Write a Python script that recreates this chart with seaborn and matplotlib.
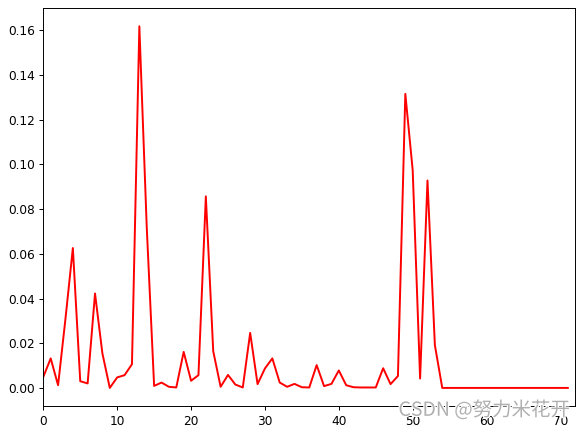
import numpy as np
import pandas as pd
import matplotlib
matplotlib.use('Agg')
import matplotlib.pyplot as plt
import matplotlib.patheffects as pe
import seaborn as sns

# values, one per integer step 0..71
steps = list(range(72))
values = [0.0050, 0.0133, 0.0013, 0.0310, 0.0626, 0.0031, 0.0021, 0.0423, 0.0155, 0.0001,
          0.0048, 0.0058, 0.0107, 0.1617, 0.0720, 0.0010, 0.0025, 0.0006, 0.0003, 0.0162,
          0.0033, 0.0058, 0.0857, 0.0165, 0.0006, 0.0059, 0.0016, 0.0003, 0.0247, 0.0018,
          0.0088, 0.0133, 0.0025, 0.0006, 0.0019, 0.0004, 0.0003, 0.0103, 0.0009, 0.0019,
          0.0079, 0.0013, 0.0004, 0.0003, 0.0003, 0.0003, 0.0089, 0.0018, 0.0054, 0.1315,
          0.0973, 0.0043, 0.0928, 0.0192, 0.0001] + [0.0001] * 17

df = pd.DataFrame({'step': steps, 'value': values})

DPI = 87.5
fig = plt.figure(figsize=(582 / DPI, 431 / DPI), dpi=DPI)
ax = fig.add_axes([0.0744, 0.058, 0.914, 0.923])
sns.lineplot(data=df, x='step', y='value', color='red', linewidth=1.6, ax=ax)

ax.set_xlim(0, 72)
ax.set_xticks([0, 10, 20, 30, 40, 50, 60, 70])
ax.set_yticks([0.00, 0.02, 0.04, 0.06, 0.08, 0.10, 0.12, 0.14, 0.16])
ax.set_yticklabels(['0.00', '0.02', '0.04', '0.06', '0.08', '0.10', '0.12', '0.14', '0.16'])
ax.set_xlabel('')
ax.set_ylabel('')

# watermark
fig.text(0.980, 0.048, 'CSDN @努力米花开', ha='right', va='center', fontsize=16,
         color='#b0b0b0', family=['Noto Sans CJK SC', 'DejaVu Sans'],
         path_effects=[pe.withStroke(linewidth=2, foreground='white')])

fig.savefig('out.png', dpi=DPI)
plt.close()
